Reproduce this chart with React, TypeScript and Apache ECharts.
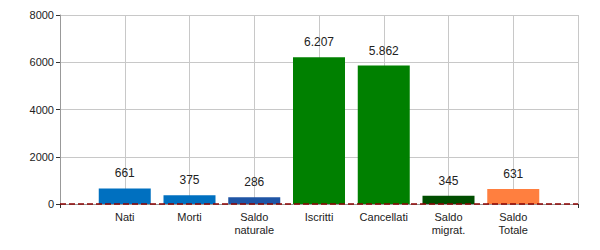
import React, { useEffect, useRef } from "react";
import * as echarts from "echarts";

const categories = ["", "Nati", "Morti", "Saldo\nnaturale", "Iscritti", "Cancellati", "Saldo\nmigrat.", "Saldo\nTotale", ""];
const values: (number | null)[] = [null, 661, 375, 286, 6207, 5862, 345, 631, null];
const barColors = ["", "#0070C0", "#0070C0", "#1F55A5", "#008000", "#008000", "#004E00", "#FF7F3F", ""];
const yTicks = [0, 2000, 4000, 6000, 8000];

const fmt = (v: number) => String(v).replace(/\B(?=(\d{3})+(?!\d))/g, ".");

export default function App() {
  const ref = useRef<HTMLDivElement>(null);
  useEffect(() => {
    const chart = echarts.init(ref.current!, null, { renderer: "svg" });
    const font = "Liberation Sans, Arial, sans-serif";
    chart.setOption({
      animation: false,
      grid: { left: 60, right: 22, top: 15, bottom: 46, containLabel: false },
      xAxis: {
        type: "category",
        data: categories,
        boundaryGap: false,
        axisLine: { show: true, lineStyle: { color: "#999" } },
        axisTick: {
          show: true,
          length: 4,
          interval: (i: number) => i === 0 || i === categories.length - 1,
          lineStyle: { color: "#333" },
        },
        axisLabel: {
          interval: 0,
          color: "#222",
          fontFamily: font,
          fontSize: 11,
          lineHeight: 13,
          margin: 6,
        },
        splitLine: { show: true, lineStyle: { color: "#c8c8c8" } },
      },
      yAxis: {
        type: "value",
        min: yTicks[0],
        max: yTicks[yTicks.length - 1],
        interval: 2000,
        axisLine: { show: true, lineStyle: { color: "#999" } },
        axisTick: { show: true, length: 4, lineStyle: { color: "#333" } },
        axisLabel: {
          color: "#222",
          fontFamily: font,
          fontSize: 11,
          margin: 6,
          formatter: (v: number) => String(v),
        },
        splitLine: { show: true, lineStyle: { color: "#c8c8c8" } },
      },
      series: [
        {
          type: "bar",
          barWidth: 52,
          data: values.map((v, i) =>
            v === null ? null : { value: v, itemStyle: { color: barColors[i] } }
          ),
          label: {
            show: true,
            position: "top",
            distance: 9,
            color: "#222",
            fontFamily: font,
            fontSize: 12,
            formatter: (p: any) => fmt(p.value),
          },
          markLine: {
            silent: true,
            symbol: "none",
            label: { show: false },
            lineStyle: { color: "#8B0000", type: [6, 3], width: 1.5 },
            data: [{ yAxis: 0 }],
          },
        },
      ],
    });
    return () => chart.dispose();
  }, []);
  return <div ref={ref} style={{ width: 600, height: 250, position: "absolute", left: 0, top: 0 }} />;
}
